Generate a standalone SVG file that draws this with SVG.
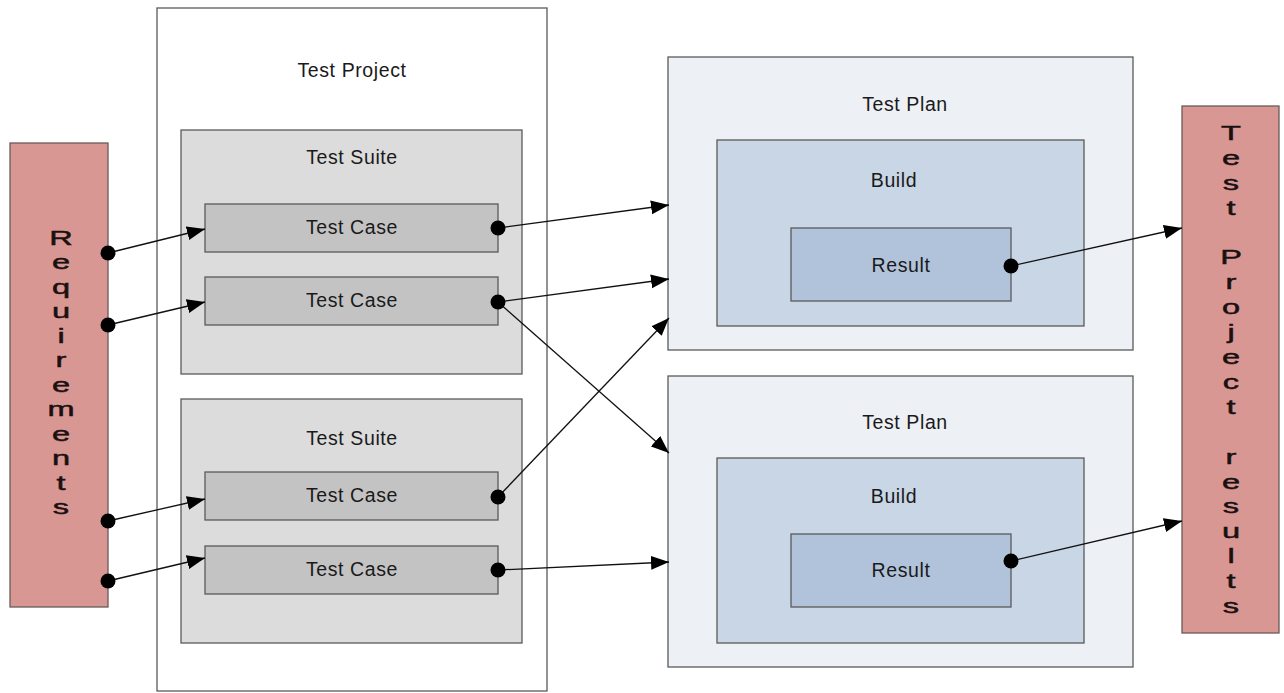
<svg xmlns="http://www.w3.org/2000/svg" width="1284" height="693" viewBox="0 0 1284 693">
<style>
.lbl{font-family:"Liberation Sans",Arial,sans-serif;font-size:19.5px;fill:#1a1a1a;text-anchor:middle;letter-spacing:0.6px}
.vt{font-family:"Liberation Sans",Arial,sans-serif;font-size:21px;fill:#1a1010;stroke:#1a1010;stroke-width:0.5;text-anchor:middle}
.bx{stroke:#5a5a5a;stroke-width:1.3}
.req{fill:#d99794;stroke:#6b5a5a;stroke-width:1.3}
.proj{fill:#ffffff}
.suite{fill:#dcdcdc}
.case{fill:#c3c3c3}
.plan{fill:#edf0f5}
.build{fill:#c9d6e5}
.res{fill:#b1c3da}
.con line{stroke:#111;stroke-width:1.3;marker-end:url(#arr)}
.con circle{fill:#000}
</style>
<defs>
<marker id="arr" markerUnits="userSpaceOnUse" markerWidth="19" markerHeight="15" refX="18" refY="7" orient="auto">
<path d="M0,0 L18,7 L0,14 z" fill="#000"/>
</marker>
</defs>
<rect width="1284" height="693" fill="#fff"/>

<g id="requirements">
<rect class="req" x="10" y="143" width="98" height="464"/>
<g transform="translate(61,0) scale(1.55,1)">
<text class="vt" x="0" y="245">R</text>
<text class="vt" x="0" y="269.5">e</text>
<text class="vt" x="0" y="294">q</text>
<text class="vt" x="0" y="318.5">u</text>
<text class="vt" x="0" y="343">i</text>
<text class="vt" x="0" y="367.5">r</text>
<text class="vt" x="0" y="392">e</text>
<text class="vt" x="0" y="416.5">m</text>
<text class="vt" x="0" y="441">e</text>
<text class="vt" x="0" y="465.5">n</text>
<text class="vt" x="0" y="490">t</text>
<text class="vt" x="0" y="514.5">s</text>
</g>
</g>

<g id="test-project">
<rect class="bx proj" x="157" y="8" width="390" height="683"/>
<text class="lbl" x="352" y="77">Test Project</text>
</g>

<g id="test-suite-1">
<rect class="bx suite" x="181" y="130" width="341" height="244"/>
<text class="lbl" x="352" y="164">Test Suite</text>
</g>
<g id="test-suite-2">
<rect class="bx suite" x="181" y="399" width="341" height="244"/>
<text class="lbl" x="352" y="445">Test Suite</text>
</g>

<g id="test-case-1">
<rect class="bx case" x="205" y="204" width="293" height="48"/>
<text class="lbl" x="352" y="234">Test Case</text>
</g>
<g id="test-case-2">
<rect class="bx case" x="205" y="277" width="293" height="48"/>
<text class="lbl" x="352" y="307">Test Case</text>
</g>
<g id="test-case-3">
<rect class="bx case" x="205" y="472" width="293" height="48"/>
<text class="lbl" x="352" y="502">Test Case</text>
</g>
<g id="test-case-4">
<rect class="bx case" x="205" y="546" width="293" height="48"/>
<text class="lbl" x="352" y="576">Test Case</text>
</g>

<g id="test-plan-1">
<rect class="bx plan" x="668" y="57" width="465" height="293"/>
<text class="lbl" x="905" y="111">Test Plan</text>
</g>
<g id="build-1">
<rect class="bx build" x="717" y="140" width="367" height="186"/>
<text class="lbl" x="894" y="187">Build</text>
</g>
<g id="result-1">
<rect class="bx res" x="791" y="228" width="220" height="73"/>
<text class="lbl" x="901" y="272">Result</text>
</g>

<g id="test-plan-2">
<rect class="bx plan" x="668" y="376" width="465" height="291"/>
<text class="lbl" x="905" y="429">Test Plan</text>
</g>
<g id="build-2">
<rect class="bx build" x="717" y="458" width="367" height="185"/>
<text class="lbl" x="894" y="503">Build</text>
</g>
<g id="result-2">
<rect class="bx res" x="791" y="534" width="220" height="73"/>
<text class="lbl" x="901" y="577">Result</text>
</g>

<g id="results">
<rect class="req" x="1182" y="106" width="97" height="527"/>
<g transform="translate(1231,0) scale(1.55,1)">
<text class="vt" x="0" y="140">T</text>
<text class="vt" x="0" y="164.9">e</text>
<text class="vt" x="0" y="189.8">s</text>
<text class="vt" x="0" y="214.7">t</text>
<text class="vt" x="0" y="264.5">P</text>
<text class="vt" x="0" y="289.4">r</text>
<text class="vt" x="0" y="314.3">o</text>
<text class="vt" x="0" y="339.2">j</text>
<text class="vt" x="0" y="364.1">e</text>
<text class="vt" x="0" y="389">c</text>
<text class="vt" x="0" y="413.9">t</text>
<text class="vt" x="0" y="463.7">r</text>
<text class="vt" x="0" y="488.6">e</text>
<text class="vt" x="0" y="513.5">s</text>
<text class="vt" x="0" y="538.4">u</text>
<text class="vt" x="0" y="563.3">l</text>
<text class="vt" x="0" y="588.2">t</text>
<text class="vt" x="0" y="613.1">s</text>
</g>
</g>

<g id="connectors" class="con">
<line x1="108" y1="253" x2="205" y2="229"/>
<line x1="108" y1="325" x2="205" y2="302"/>
<line x1="108" y1="521" x2="205" y2="499"/>
<line x1="108" y1="581" x2="205" y2="558"/>
<line x1="498" y1="228" x2="669" y2="205"/>
<line x1="498" y1="302" x2="669" y2="279"/>
<line x1="498" y1="302" x2="669" y2="453"/>
<line x1="498" y1="497" x2="669" y2="318"/>
<line x1="498" y1="570" x2="669" y2="562"/>
<line x1="1011" y1="266" x2="1182" y2="228"/>
<line x1="1011" y1="561" x2="1182" y2="521"/>
<circle cx="108" cy="253" r="7.5"/>
<circle cx="108" cy="325" r="7.5"/>
<circle cx="108" cy="521" r="7.5"/>
<circle cx="108" cy="581" r="7.5"/>
<circle cx="498" cy="228" r="7.5"/>
<circle cx="498" cy="302" r="7.5"/>
<circle cx="498" cy="497" r="7.5"/>
<circle cx="498" cy="570" r="7.5"/>
<circle cx="1011" cy="266" r="7.5"/>
<circle cx="1011" cy="561" r="7.5"/>
</g>
</svg>
